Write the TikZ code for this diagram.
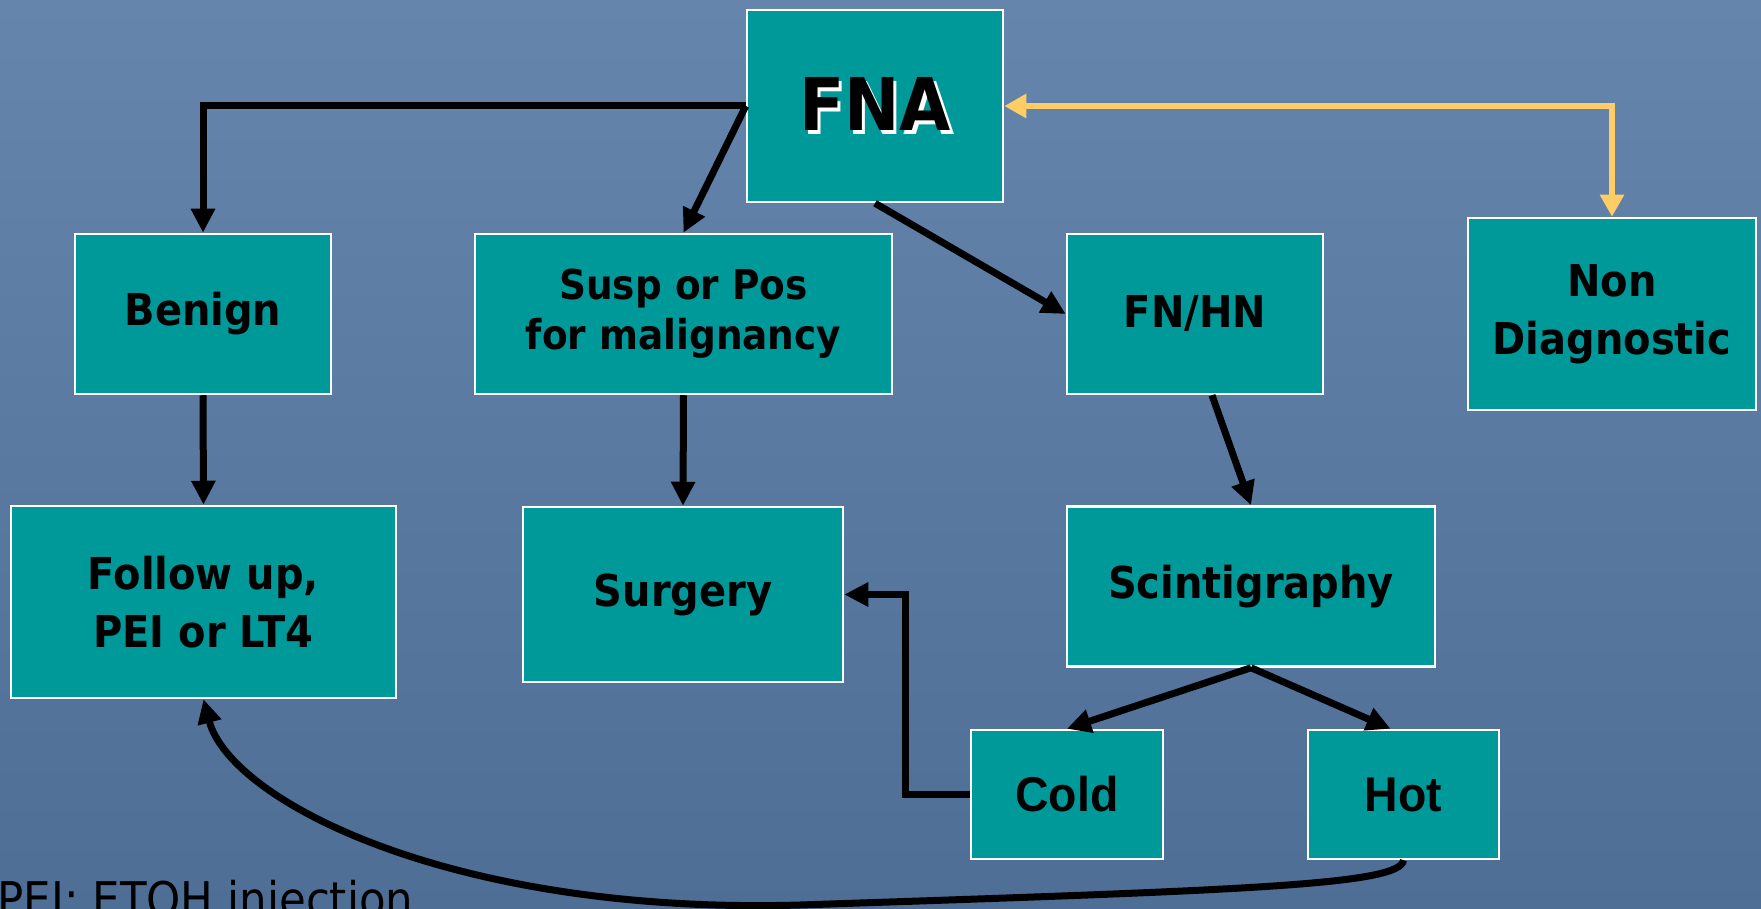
\documentclass[tikz,border=0pt]{standalone}
\usepackage{fontspec}
\setmainfont{DejaVu Sans}[FakeStretch=0.91]
\newfontfamily\narrowfont{Liberation Sans}[FakeStretch=0.95]
\usetikzlibrary{arrows.meta}
\definecolor{slidetop}{RGB}{101,133,172}
\definecolor{slidebottom}{RGB}{78,110,150}
\definecolor{boxteal}{RGB}{0,153,153}
\definecolor{linkyellow}{RGB}{255,204,102}

\begin{document}
\begin{tikzpicture}[x=0.1mm, y=-0.1mm, line join=miter,
    box/.style={draw=white, line width=0.25mm, fill=boxteal, inner sep=0pt, align=center,
        font=\fontsize{12.5}{16.5}\selectfont\bfseries},
    arr/.style={line width=0.7mm, -{Triangle[length=2.4mm,width=2.3mm]}},
    yarr/.style={draw=linkyellow, line width=0.6mm,
        {Triangle[length=2.2mm,width=2.3mm]}-{Triangle[length=2.2mm,width=2.3mm]}}]
    \useasboundingbox (0,0) rectangle (1761,909);
    \clip (0,0) rectangle (1761,909);
    \shade[top color=slidetop, bottom color=slidebottom] (0,0) rectangle (1761,909);

    % boxes
    \node[box, minimum width=25.6mm, minimum height=19.2mm,
        font=\fontsize{20.7}{24}\selectfont\bfseries] (FNA) at (875,106)
        {\rlap{\kern0.35mm\raisebox{-0.35mm}{\color{white}FNA}}FNA};
    \node[box, minimum width=25.6mm, minimum height=16mm] (Benign) at (203,314) {Benign};
    \node[box, minimum width=41.7mm, minimum height=16mm,
        font=\fontsize{11.7}{14.2}\selectfont\bfseries] (Susp) at (683.5,314)
        {Susp or Pos\\for malignancy};
    \node[box, minimum width=25.6mm, minimum height=16mm] (FNHN) at (1195,314) {FN/HN};
    \node[box, minimum width=28.8mm, minimum height=19.2mm] (NonDiag) at (1612,314) {Non\\Diagnostic};
    \node[box, minimum width=38.5mm, minimum height=19.2mm] (Follow) at (203.5,602) {Follow up,\\PEI or LT4};
    \node[box, minimum width=32mm, minimum height=17.5mm] (Surgery) at (683,594.5) {Surgery};
    \node[box, minimum width=36.8mm, minimum height=16mm] (Scint) at (1251,586.5) {Scintigraphy};
    \node[box, minimum width=19.2mm, minimum height=12.9mm,
        font=\fontsize{13.9}{16}\selectfont\narrowfont\bfseries] (Cold) at (1067,794.5) {Cold};
    \node[box, minimum width=19.1mm, minimum height=12.9mm,
        font=\fontsize{13.9}{16}\selectfont\narrowfont\bfseries] (Hot) at (1403.5,794.5) {Hot};

    \node[anchor=base west, inner sep=0pt, font=\fontsize{13.6}{16}\selectfont] (note) at (-3,917)
        {PEI: ETOH injection};

    % connectors
    \draw[arr] (FNA.west) -| (Benign.north);
    \draw[arr] (FNA.west) -- (Susp.north);
    \draw[arr] (FNA.south) -- (FNHN.west);
    \draw[yarr] (FNA.east) -| (NonDiag.north);
    \draw[arr] (Benign.south) -- (Follow.north);
    \draw[arr] (Susp.south) -- (Surgery.north);
    \draw[arr] ([xshift=1.7mm]FNHN.south) -- (Scint.north);
    \draw[arr] (Scint.south) -- (Cold.north);
    \draw[arr] (Scint.south) -- ([xshift=-1.3mm]Hot.north);
    \draw[arr] (Cold.west) -- ++(-64,0) |- (Surgery.east);
    \draw[arr] (Hot.south) .. controls (1400,885) and (1250,890) .. (800,905)
        .. controls (450,915) and (230,800) .. (Follow.south);
\end{tikzpicture}
\end{document}
